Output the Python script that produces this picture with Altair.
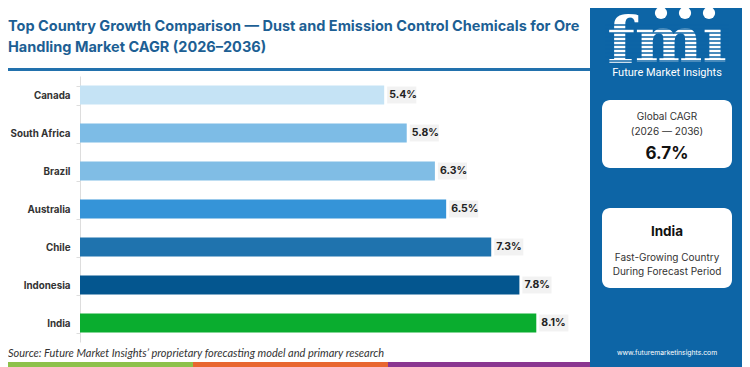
import altair as alt
import pandas as pd

countries = ["Canada", "South Africa", "Brazil", "Australia", "Chile", "Indonesia", "India"]
cagr = [5.4, 5.8, 6.3, 6.5, 7.3, 7.8, 8.1]
bar_colors = ["#c5e3f5", "#7dbce6", "#80bde5", "#3594d8", "#1f73ae", "#04568f", "#0aad2f"]

title_lines = ["Top Country Growth Comparison \u2014 Dust and Emission Control Chemicals for Ore",
               "Handling Market CAGR (2026\u20132036)"]
source_text = "Source: Future Market Insights\u2019 proprietary forecasting model and primary research"
global_cagr = "6.7%"
top_country = "India"

FONT = "Inter, sans-serif"
PANEL = "#0d65a6"

df = pd.DataFrame({"country": countries, "v": cagr})
df["label"] = [f"{v:.1f}%" for v in cagr]
one = pd.DataFrame({"k": [0]})

xs = alt.Scale(domain=[0, 9], nice=False, zero=True)
ysort = countries

y_enc = alt.Y("country:N", sort=ysort, title=None,
              scale=alt.Scale(paddingInner=0.5, paddingOuter=0.25),
              axis=alt.Axis(labelFont=FONT, labelFontSize=9.8, labelFontWeight="bold",
                            labelColor="#333333", labelPadding=6, domainColor="#dddddd",
                            tickColor="#dddddd", tickSize=4, tickBand="extent", grid=False))

bars = alt.Chart(df).mark_bar(size=19).encode(
    x=alt.X("v:Q", scale=xs, axis=None),
    y=y_enc,
    color=alt.Color("country:N", scale=alt.Scale(domain=countries, range=bar_colors), legend=None),
)

label_bg = alt.Chart(df).transform_calculate(
    lo="datum.v + 0.053", hi="datum.v + 0.57"
).mark_bar(size=17, color="#f2f2f2").encode(
    x=alt.X("lo:Q", scale=xs, axis=None), x2="hi:Q", y=alt.Y("country:N", sort=ysort)
)

labels = alt.Chart(df).mark_text(align="left", dx=5, font=FONT, fontSize=10.5,
                                 fontWeight="bold", color="#222222").encode(
    x=alt.X("v:Q", scale=xs, axis=None), y=alt.Y("country:N", sort=ysort), text="label:N"
)


def rect(x1, x2, y1, y2, color, **kw):
    return alt.Chart(one).mark_rect(color=color, **kw).encode(
        x=alt.value(x1), x2=alt.value(x2), y=alt.value(y1), y2=alt.value(y2))


def text(t, x, y, size, color="#333333", weight="normal", align="center", font=FONT,
         baseline="middle", **kw):
    return alt.Chart(one).mark_text(text=t, fontSize=size, color=color, fontWeight=weight,
                                    align=align, baseline=baseline, font=font, **kw).encode(
        x=alt.value(x), y=alt.value(y))


CX = 587
layers = []
# right panel
layers.append(rect(510, 680, -80, 300, PANEL))
# title and rule under title
layers.append(text(title_lines[0], -72, -49, 14.5, color="#1d5f94", weight="bold", align="left"))
layers.append(text(title_lines[1], -72, -28, 14.5, color="#1d5f94", weight="bold", align="left"))
layers.append(alt.Chart(one).mark_rule(color="#2271ad", strokeWidth=3).encode(
    x=alt.value(-80), x2=alt.value(510), y=alt.value(-6.5)))
# bottom colour strip
layers.append(rect(-80, 113, 286, 291, "#8dc14a"))
layers.append(rect(113, 308, 286, 291, "#e8662f"))
layers.append(rect(308, 510, 286, 291, "#8a3690"))
# source
layers.append(text(source_text, -72, 278, 11, color="#333333", align="left",
                   font="Lato", fontStyle="italic"))
# logo
layers.append(text("fm\u0131", CX, -14, 64, color="white", weight="bold", font="DejaVu Serif",
                   baseline="alphabetic"))
for yy in range(-51, -13, 4):
    layers.append(alt.Chart(one).mark_rule(color=PANEL, strokeWidth=1.4).encode(
        x=alt.value(CX - 62), x2=alt.value(CX + 62), y=alt.value(yy)))
for gx in [CX - 6, CX + 18, CX + 42]:
    layers.append(alt.Chart(one).mark_point(filled=True, color="white", size=150, opacity=1).encode(
        x=alt.value(gx), y=alt.value(-63)))
layers.append(text("Future Market Insights", CX, -3, 11, color="white", font="Roboto"))
# card 1
layers.append(rect(CX - 65, CX + 65, 24, 92, "white", cornerRadius=8))
layers.append(text("Global CAGR", CX, 41, 10))
layers.append(text("(2026 \u2014 2036)", CX, 56, 10))
layers.append(text(global_cagr, CX, 78, 17, color="#111111", weight="bold"))
# card 2
layers.append(rect(CX - 65, CX + 65, 132, 212, "white", cornerRadius=8))
layers.append(text(top_country, CX, 156, 13.5, color="#111111", weight="bold"))
layers.append(text("Fast-Growing Country", CX, 182, 10))
layers.append(text("During Forecast Period", CX, 196, 10))
layers.append(text("www.futuremarketinsights.com", CX, 277, 6.8, color="white"))

chart = alt.layer(*layers, bars, label_bg, labels).properties(
    width=507, height=266,
    padding={"left": 72, "top": 68, "right": 155, "bottom": 25},
    autosize=alt.AutoSizeParams(type="none"),
    background="white",
).configure_view(stroke=None)

chart.save("out.html", embed_options={"renderer": "svg", "actions": False})
